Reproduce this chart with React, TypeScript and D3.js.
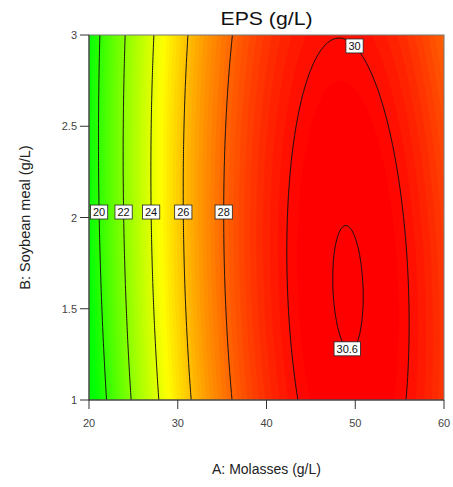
import React from 'react';
import * as d3 from 'd3';

// Axis domains and ticks
const aDomain = [20, 60];
const bDomain = [1, 3];
const xTicks = [20, 30, 40, 50, 60];
const yTicks = [1, 1.5, 2, 2.5, 3];
const yTickLabels = ['1', '1.5', '2', '2.5', '3'];

// Contour levels shown with labels
const contourLevels = [20, 22, 24, 26, 28, 30, 30.6];
const leftLabelLevels = [20, 22, 24, 26, 28];

// Quadratic response-surface model in coded units
const intercept = 29.5;
const linearCoef = [4.895, -0.085];
const interactionCoef = -0.4;
const quadCoef = [-5.5, -0.349];

// Colour scale ends (value at pure green, value at pure red)
const colorRange = [19, 30.25];

function eps(a: number, b: number) {
  const x1 = (a - 40) / 20;
  const x2 = (b - 2) / 1;
  return (
    intercept +
    linearCoef[0] * x1 +
    linearCoef[1] * x2 +
    interactionCoef * x1 * x2 +
    quadCoef[0] * x1 * x1 +
    quadCoef[1] * x2 * x2
  );
}

function colorFor(v: number) {
  const t = Math.max(0, Math.min(1, (colorRange[1] - v) / (colorRange[1] - colorRange[0])));
  return d3.hsl(120 * t, 1, 0.5).formatHex();
}

function bisect(f: (t: number) => number, lo: number, hi: number) {
  let flo = f(lo);
  for (let k = 0; k < 60; k++) {
    const mid = (lo + hi) / 2;
    const fm = f(mid);
    if ((fm > 0) === (flo > 0)) {
      lo = mid;
      flo = fm;
    } else hi = mid;
  }
  return (lo + hi) / 2;
}

const W = 453;
const H = 487;
const plot = { left: 89, right: 444, top: 35, bottom: 400 };
const FONT = "'Liberation Sans', Arial, Helvetica, sans-serif";

export default function App() {
  const x = d3.scaleLinear().domain(aDomain).range([plot.left, plot.right]);
  const y = d3.scaleLinear().domain(bDomain).range([plot.bottom, plot.top]);

  // extended grid (so contour polygon borders fall outside clip)
  const pad = 0.03;
  const a0 = aDomain[0] - (aDomain[1] - aDomain[0]) * pad;
  const a1 = aDomain[1] + (aDomain[1] - aDomain[0]) * pad;
  const b0 = bDomain[0] - (bDomain[1] - bDomain[0]) * pad;
  const b1 = bDomain[1] + (bDomain[1] - bDomain[0]) * pad;
  const nx = 220;
  const ny = 220;
  const dA = (a1 - a0) / nx;
  const dB = (b1 - b0) / ny;
  const values = new Array(nx * ny);
  for (let j = 0; j < ny; j++) {
    const b = b1 - (j + 0.5) * dB;
    for (let i = 0; i < nx; i++) {
      const a = a0 + (i + 0.5) * dA;
      values[j * nx + i] = eps(a, b);
    }
  }
  const transform = d3.geoTransform({
    point(px: number, py: number) {
      // @ts-ignore
      this.stream.point(x(a0 + px * dA), y(b1 - py * dB));
    },
  });
  const path = d3.geoPath(transform);

  const bandStep = 0.2;
  const bandThresholds = d3.range(16, 30.8, bandStep);
  const bands = d3.contours().size([nx, ny]).thresholds(bandThresholds)(values);
  const lines = d3.contours().size([nx, ny]).thresholds(contourLevels)(values);

  // label positions
  const labels: { text: string; cx: number; cy: number }[] = [];
  const bLeft = 2.03;
  leftLabelLevels.forEach((lv) => {
    const a = bisect((t) => eps(t, bLeft) - lv, 20, 48);
    labels.push({ text: String(lv), cx: x(a), cy: y(bLeft) });
  });
  {
    const bTop = 2.94;
    const a = bisect((t) => eps(t, bTop) - 30, 48.5, 60);
    labels.push({ text: '30', cx: x(a), cy: y(bTop) });
  }
  {
    const aMid = 49.1;
    const b = bisect((t) => eps(aMid, t) - 30.6, 1, 1.62);
    labels.push({ text: '30.6', cx: x(aMid), cy: y(b) });
  }
  const textWidth = (s: string) =>
    s.split('').reduce((acc, ch) => acc + (ch === '.' ? 3.06 : 6.12), 0);

  return (
    <svg
      width={W}
      height={H}
      style={{ position: 'absolute', left: 0, top: 0, background: '#fff' }}
      fontFamily={FONT}
    >
      <defs>
        <clipPath id="plotClip">
          <rect
            x={plot.left}
            y={plot.top}
            width={plot.right - plot.left}
            height={plot.bottom - plot.top}
          />
        </clipPath>
      </defs>
      <g clipPath="url(#plotClip)">
        {bands.map((c, k) => (
          <path
            key={'b' + k}
            d={path(c as any) || ''}
            fill={colorFor(c.value + bandStep / 2)}
            stroke="none"
          />
        ))}
        {lines.map((c, k) => (
          <path
            key={'l' + k}
            d={path(c as any) || ''}
            fill="none"
            stroke="#111"
            strokeWidth={1}
          />
        ))}
      </g>
      {/* border */}
      <rect
        x={plot.left}
        y={plot.top}
        width={plot.right - plot.left}
        height={plot.bottom - plot.top}
        fill="none"
        stroke="#777"
        strokeWidth={1}
      />
      <line x1={plot.left} x2={plot.left} y1={plot.top} y2={plot.bottom} stroke="#333" />
      <line x1={plot.left} x2={plot.right} y1={plot.bottom} y2={plot.bottom} stroke="#333" />
      {/* contour labels */}
      {labels.map((l, k) => {
        const w = textWidth(l.text) + 5;
        const h = 14;
        return (
          <g key={'t' + k}>
            <rect
              x={l.cx - w / 2}
              y={l.cy - h / 2}
              width={w}
              height={h}
              fill="#fff"
              stroke="#222"
              strokeWidth={0.8}
            />
            <text
              x={l.cx}
              y={l.cy + 4}
              textAnchor="middle"
              fontSize={11}
              fill="#111"
            >
              {l.text}
            </text>
          </g>
        );
      })}
      {/* x axis ticks */}
      {xTicks.map((t) => (
        <g key={'xt' + t}>
          <line x1={x(t)} x2={x(t)} y1={plot.bottom} y2={plot.bottom + 9} stroke="#333" />
          <text
            x={x(t)}
            y={plot.bottom + 27}
            textAnchor="middle"
            fontSize={11}
            fill="#444"
          >
            {t}
          </text>
        </g>
      ))}
      {/* y axis ticks */}
      {yTicks.map((t, k) => (
        <g key={'yt' + t}>
          <line x1={plot.left - 9} x2={plot.left} y1={y(t)} y2={y(t)} stroke="#333" />
          <text
            x={plot.left - 12}
            y={y(t) + 4}
            textAnchor="end"
            fontSize={11}
            fill="#444"
          >
            {yTickLabels[k]}
          </text>
        </g>
      ))}
      {/* title */}
      <text
        x={(plot.left + plot.right) / 2}
        y={25}
        textAnchor="middle"
        fontSize={18}
        fill="#111"
        textLength={92}
        lengthAdjust="spacingAndGlyphs"
      >
        EPS (g/L)
      </text>
      <text
        x={(plot.left + plot.right) / 2}
        y={474}
        textAnchor="middle"
        fontSize={14}
        fill="#222"
      >
        A: Molasses (g/L)
      </text>
      <text
        transform={`translate(30, ${(plot.top + plot.bottom) / 2}) rotate(-90)`}
        textAnchor="middle"
        fontSize={14.5}
        fill="#222"
      >
        B: Soybean meal (g/L)
      </text>
    </svg>
  );
}
